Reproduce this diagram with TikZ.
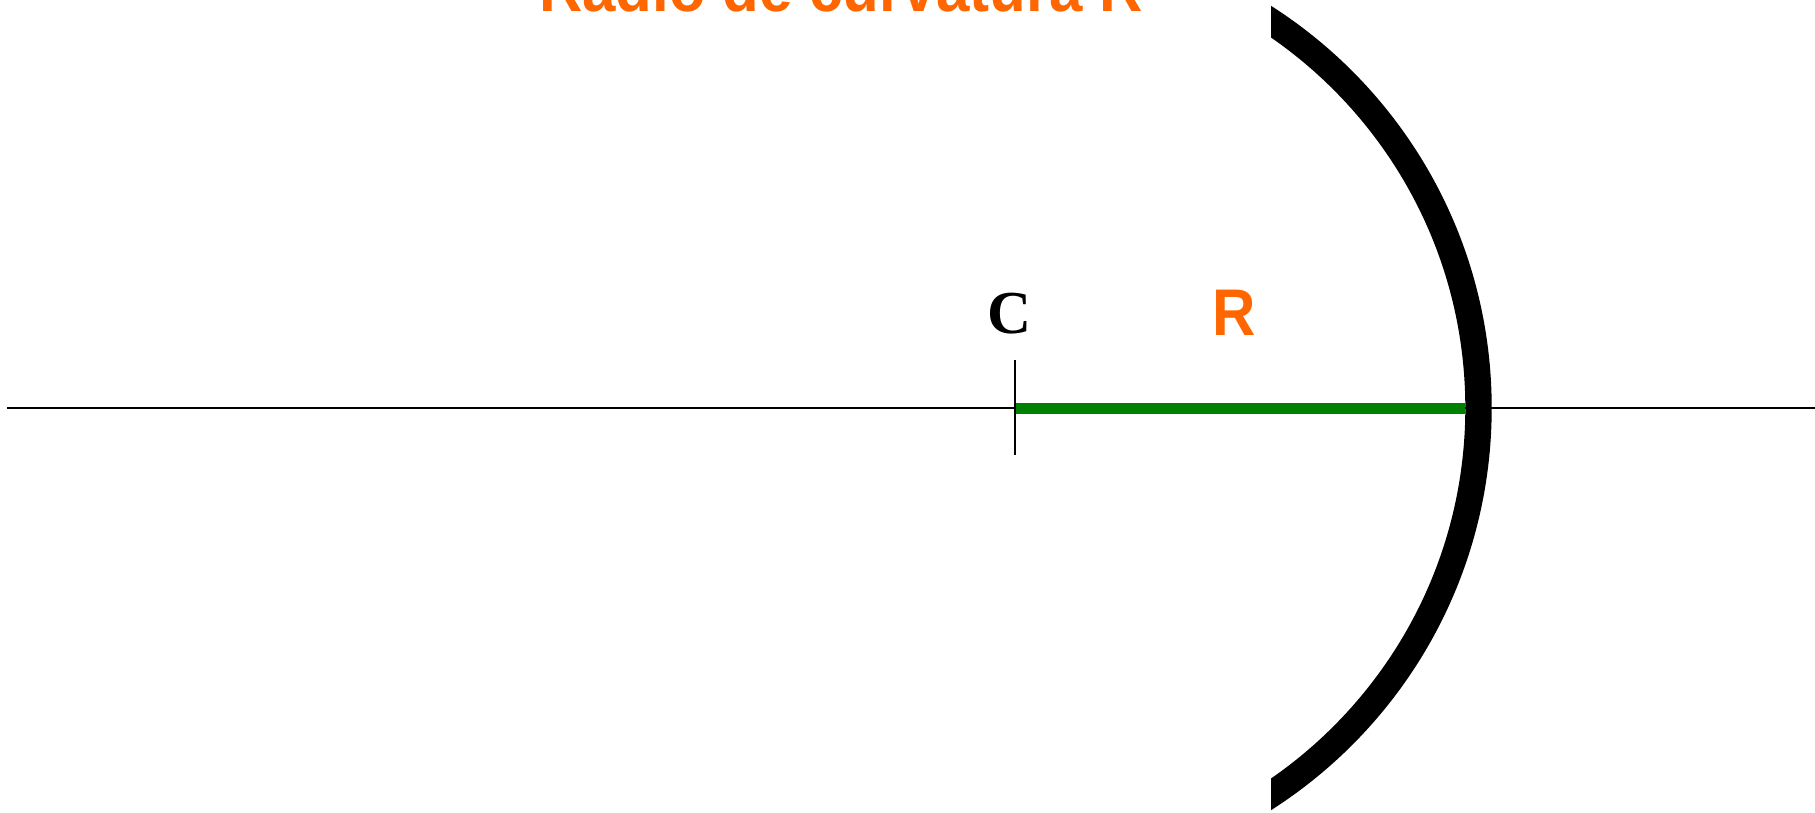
\documentclass[tikz,border=0pt]{standalone}
\usepackage{graphicx}
\usepackage{fontspec}
\setmainfont{Liberation Serif}
\newfontfamily\arialfont{Liberation Sans}
\definecolor{labelorange}{RGB}{255,102,0}
\definecolor{radgreen}{RGB}{0,128,0}
\newcommand{\narrowtext}[1]{\scalebox{0.91}[1]{#1}}
\begin{document}
\begin{tikzpicture}[x=1pt,y=-1pt,
  axisline/.style={line width=2pt,black},
  radiusline/.style={line width=11pt,radgreen},
  mirrorline/.style={line width=26.4pt,black},
  orangelabel/.style={text=labelorange,inner sep=0pt,font=\arialfont\bfseries\fontsize{66}{66}\selectfont},
  pointlabel/.style={text=black,inner sep=0pt,font=\bfseries\fontsize{61}{61}\selectfont}]
\useasboundingbox (0,0) rectangle (1815,813);
\coordinate (C) at (1015,408);
\coordinate (V) at (1465,408);
\coordinate (axisL) at (7,408);
\coordinate (axisR) at (1815,408);
\coordinate (tickT) at (1015,360);
\coordinate (tickB) at (1015,455);
% optical axis
\draw[axisline] (axisL) -- (axisR);
% radius of curvature
\draw[radiusline] (C) -- (V);
% centre tick
\draw[axisline] (tickT) -- (tickB);
% mirror
\begin{scope}
  \clip (1271,-50) rectangle (1900,900);
  \draw[mirrorline] (C) circle[radius=463.5];
\end{scope}
% labels
\node[orangelabel,anchor=base west] (title) at (539,12) {\narrowtext{Radio de curvatura R}};
\node[orangelabel,anchor=base] (Rlab) at (1234,335) {\narrowtext{R}};
\node[pointlabel,anchor=base] (Clab) at (1010,333) {C};
\end{tikzpicture}
\end{document}
